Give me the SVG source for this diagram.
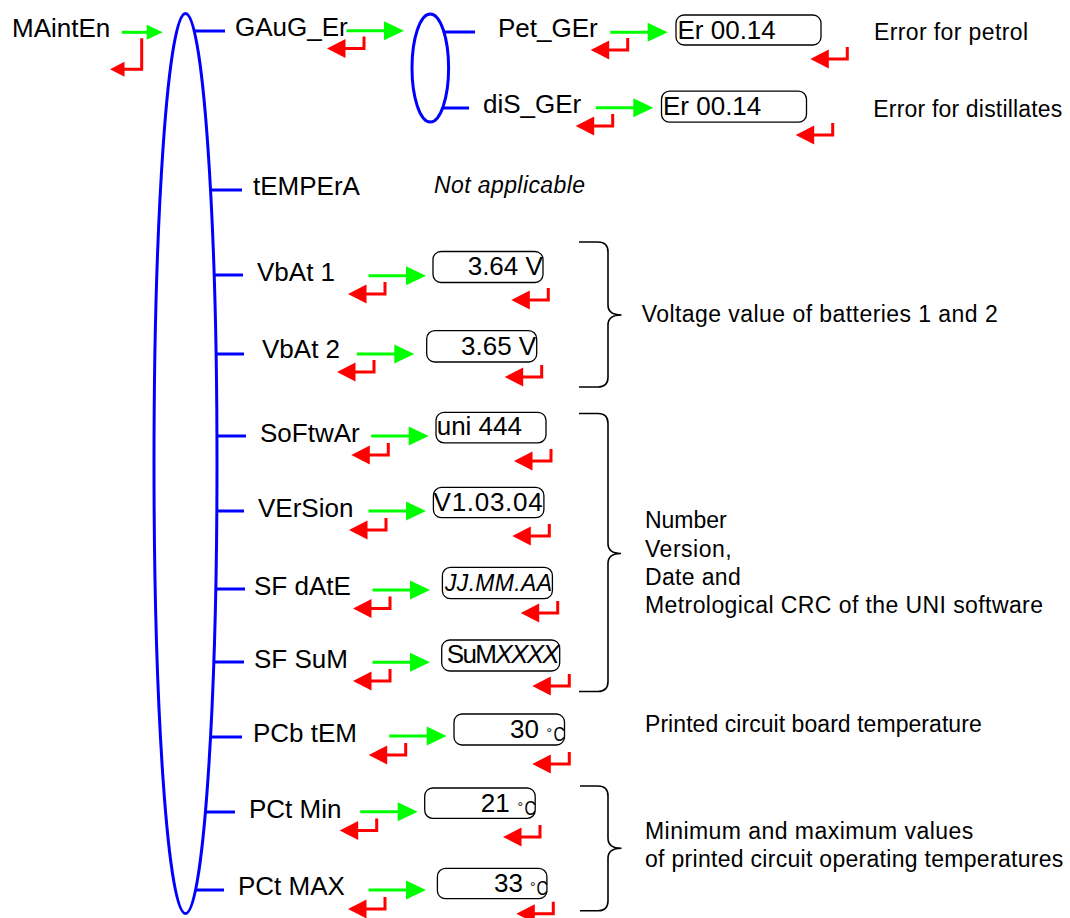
<svg xmlns="http://www.w3.org/2000/svg" xmlns:xlink="http://www.w3.org/1999/xlink" width="1070" height="918" viewBox="0 0 1070 918">
  <style>
    text { font-family: "Liberation Sans", Arial, sans-serif; fill: #000; }
    .lbl { font-size: 26px; }
    .val { font-size: 26px; }
    .vali { font-size: 23px; font-style: italic; }
    .desc { font-size: 23px; }
    .deg { font-size: 14px; }
    .blue { fill: none; stroke: #0000ff; stroke-width: 3; }
    .box { fill: #fff; stroke: #000; stroke-width: 1.3; }
    .brace { fill: none; stroke: #000; stroke-width: 1.6; }
  </style>
  <defs>
    <!-- forward (enter) arrow, origin at the tip -->
    <g id="fwd">
      <line x1="-57.5" y1="0" x2="-18" y2="0" stroke="#00ff00" stroke-width="3"/>
      <polygon points="-20,-9.5 0,0 -20,9.5" fill="#00ff00"/>
    </g>
    <!-- return arrow, origin at the top of the vertical stroke -->
    <g id="ret">
      <path d="M0 0 V12 H-20" fill="none" stroke="#ff0000" stroke-width="3"/>
      <polygon points="-18.5,2.5 -37,12 -18.5,21.5" fill="#ff0000"/>
    </g>
  </defs>

  <!-- menu branches -->
  <g id="branches">
    <ellipse class="blue" cx="185.5" cy="463.5" rx="31.5" ry="450"/>
    <ellipse class="blue" cx="430.3" cy="68" rx="18.3" ry="54"/>
    <line class="blue" x1="194" y1="31" x2="225" y2="31"/>
    <line class="blue" x1="210" y1="190" x2="242" y2="190"/>
    <line class="blue" x1="213.5" y1="275" x2="243" y2="275"/>
    <line class="blue" x1="215.5" y1="354" x2="244" y2="354"/>
    <line class="blue" x1="216" y1="436" x2="246" y2="436"/>
    <line class="blue" x1="216" y1="511" x2="244" y2="511"/>
    <line class="blue" x1="215" y1="589" x2="245" y2="589"/>
    <line class="blue" x1="213" y1="662" x2="244" y2="662"/>
    <line class="blue" x1="210" y1="737" x2="242" y2="737"/>
    <line class="blue" x1="205" y1="812" x2="235" y2="812"/>
    <line class="blue" x1="195" y1="890" x2="224" y2="890"/>
    <line class="blue" x1="443" y1="32" x2="475" y2="32"/>
    <line class="blue" x1="442" y1="108" x2="469" y2="108"/>
  </g>

  <!-- enter / return arrows -->
  <g id="connectors">
    <line x1="121.7" y1="32.3" x2="148" y2="32.3" stroke="#00ff00" stroke-width="3"/>
    <polygon points="146.7,24.8 162.7,32.3 146.7,39.8" fill="#00ff00"/>
    <path d="M141.7 38.3 V69.3 H124" fill="none" stroke="#ff0000" stroke-width="3"/>
    <polygon points="124.5,61.8 110,69.3 124.5,76.8" fill="#ff0000"/>

    <use xlink:href="#fwd" x="404" y="30.7"/>
    <use xlink:href="#ret" x="364" y="36.5"/>
    <use xlink:href="#fwd" x="667.7" y="32.3"/>
    <use xlink:href="#ret" x="627.7" y="38"/>
    <use xlink:href="#ret" x="847.3" y="47"/>
    <use xlink:href="#fwd" x="653.3" y="107.7"/>
    <use xlink:href="#ret" x="612.7" y="114"/>
    <use xlink:href="#ret" x="832.7" y="123"/>

    <use xlink:href="#fwd" x="426" y="275.7"/>
    <use xlink:href="#ret" x="385" y="282"/>
    <use xlink:href="#ret" x="548.3" y="288"/>
    <use xlink:href="#fwd" x="414.3" y="354"/>
    <use xlink:href="#ret" x="374" y="360"/>
    <use xlink:href="#ret" x="541.7" y="365"/>

    <use xlink:href="#fwd" x="428.7" y="436"/>
    <use xlink:href="#ret" x="388.3" y="443"/>
    <use xlink:href="#ret" x="551" y="449"/>
    <use xlink:href="#fwd" x="426" y="511"/>
    <use xlink:href="#ret" x="386" y="518"/>
    <use xlink:href="#ret" x="549.3" y="524"/>
    <use xlink:href="#fwd" x="430" y="590"/>
    <use xlink:href="#ret" x="390" y="596.5"/>
    <use xlink:href="#ret" x="557.7" y="601"/>
    <use xlink:href="#fwd" x="430" y="662.3"/>
    <use xlink:href="#ret" x="390" y="669"/>
    <use xlink:href="#ret" x="569.3" y="674"/>

    <use xlink:href="#fwd" x="446.7" y="736"/>
    <use xlink:href="#ret" x="405.7" y="743"/>
    <use xlink:href="#ret" x="569.3" y="752"/>
    <use xlink:href="#fwd" x="417.7" y="811.7"/>
    <use xlink:href="#ret" x="376.7" y="818.5"/>
    <use xlink:href="#ret" x="540" y="825"/>
    <use xlink:href="#fwd" x="426" y="890"/>
    <use xlink:href="#ret" x="385" y="897"/>
    <use xlink:href="#ret" x="553.3" y="901.7"/>
  </g>

  <!-- menu entries -->
  <g id="maint"><text class="lbl" x="12" y="37">MAintEn</text></g>
  <g id="gauge-err"><text class="lbl" x="235" y="36">GAuG_Er</text></g>
  <g id="pet-ger">
    <text class="lbl" x="498" y="37">Pet_GEr</text>
    <rect class="box" x="676" y="15" width="145" height="30" rx="8"/>
    <text class="val" x="677.5" y="39">Er 00.14</text>
  </g>
  <g id="dis-ger">
    <text class="lbl" x="483" y="113">diS_GEr</text>
    <rect class="box" x="661.5" y="91.2" width="145" height="31" rx="8"/>
    <text class="val" x="663" y="115">Er 00.14</text>
  </g>
  <g id="tempera">
    <text class="lbl" x="253" y="195">tEMPErA</text>
    <text class="desc" x="434" y="193.3" font-style="italic" textLength="151">Not applicable</text>
  </g>
  <g id="vbat1">
    <text class="lbl" x="257" y="281">VbAt 1</text>
    <rect class="box" x="433" y="251.5" width="110" height="31" rx="8"/>
    <text class="val" x="467.7" y="275">3.64 V</text>
  </g>
  <g id="vbat2">
    <text class="lbl" x="262" y="358">VbAt 2</text>
    <rect class="box" x="426.7" y="330.7" width="110" height="31.3" rx="8"/>
    <text class="val" x="461" y="355">3.65 V</text>
  </g>
  <g id="software">
    <text class="lbl" x="260" y="442">SoFtwAr</text>
    <rect class="box" x="436" y="412.3" width="110" height="30.5" rx="8"/>
    <text class="val" x="436.7" y="435">uni 444</text>
  </g>
  <g id="version">
    <text class="lbl" x="258" y="517">VErSion</text>
    <rect class="box" x="433.4" y="487.4" width="110.5" height="30.3" rx="8"/>
    <text class="val" x="433.6" y="510.7" textLength="109">V1.03.04</text>
  </g>
  <g id="sf-date">
    <text class="lbl" x="254" y="595">SF dAtE</text>
    <rect class="box" x="442.4" y="567.4" width="110" height="31.3" rx="8"/>
    <text class="vali" x="445" y="590.7" textLength="107">JJ.MM.AA</text>
  </g>
  <g id="sf-sum">
    <text class="lbl" x="254" y="668">SF SuM</text>
    <rect class="box" x="441.7" y="640" width="118" height="31" rx="8"/>
    <text class="val" x="446.7" y="663.3" font-size="23" textLength="113">SuM<tspan font-style="italic">XXXX</tspan></text>
  </g>
  <g id="pcb-tem">
    <text class="lbl" x="253" y="742">PCb tEM</text>
    <rect class="box" x="454" y="714" width="110.5" height="31" rx="8"/>
    <text class="val" x="510" y="737.5">30</text>
    <text class="deg" x="546.5" y="737.5">°</text>
    <text x="553.5" y="741" font-size="21" textLength="11.5" lengthAdjust="spacingAndGlyphs">C</text>
  </g>
  <g id="pct-min">
    <text class="lbl" x="249" y="818">PCt Min</text>
    <rect class="box" x="424.7" y="788" width="110.5" height="30.3" rx="8"/>
    <text class="val" x="480.7" y="811.7">21</text>
    <text class="deg" x="517.5" y="811.7">°</text>
    <text x="524.5" y="815.2" font-size="21" textLength="11.5" lengthAdjust="spacingAndGlyphs">C</text>
  </g>
  <g id="pct-max">
    <text class="lbl" x="238" y="895">PCt MAX</text>
    <rect class="box" x="437.4" y="868.4" width="109.5" height="30.3" rx="8"/>
    <text class="val" x="494" y="891.7">33</text>
    <text class="deg" x="530" y="891.7">°</text>
    <text x="536.5" y="895.2" font-size="21" textLength="11.5" lengthAdjust="spacingAndGlyphs">C</text>
  </g>

  <!-- explanatory notes with braces -->
  <g id="notes">
    <text class="desc" x="874" y="40" textLength="154">Error for petrol</text>
    <text class="desc" x="873.3" y="117.3" textLength="189">Error for distillates</text>

    <path class="brace" d="M579 242 H598 Q608 242 608 252 V305 Q608 315 621.5 315 Q608 315 608 325 V377 Q608 387 598 387 H579"/>
    <text class="desc" x="641.7" y="321.7" textLength="356">Voltage value of batteries 1 and 2</text>

    <path class="brace" d="M579 413.5 H598 Q608 413.5 608 423.5 V543.5 Q608 553.5 621 553.5 Q608 553.5 608 563.5 V681.5 Q608 691.5 598 691.5 H579"/>
    <text class="desc" x="645" y="528.3" textLength="81.7">Number</text>
    <text class="desc" x="645" y="556.7" textLength="86.7">Version,</text>
    <text class="desc" x="645" y="585" textLength="95.7">Date and</text>
    <text class="desc" x="645" y="613.3" textLength="398">Metrological CRC of the UNI software</text>

    <text class="desc" x="645" y="731.7" textLength="336.7">Printed circuit board temperature</text>

    <path class="brace" d="M580 786 H598 Q608 786 608 796 V838.3 Q608 848.3 621.5 848.3 Q608 848.3 608 858.3 V900.7 Q608 910.7 598 910.7 H580"/>
    <text class="desc" x="645" y="839.3" textLength="328.3">Minimum and maximum values</text>
    <text class="desc" x="645" y="866.7" textLength="418.3">of printed circuit operating temperatures</text>
  </g>
</svg>
